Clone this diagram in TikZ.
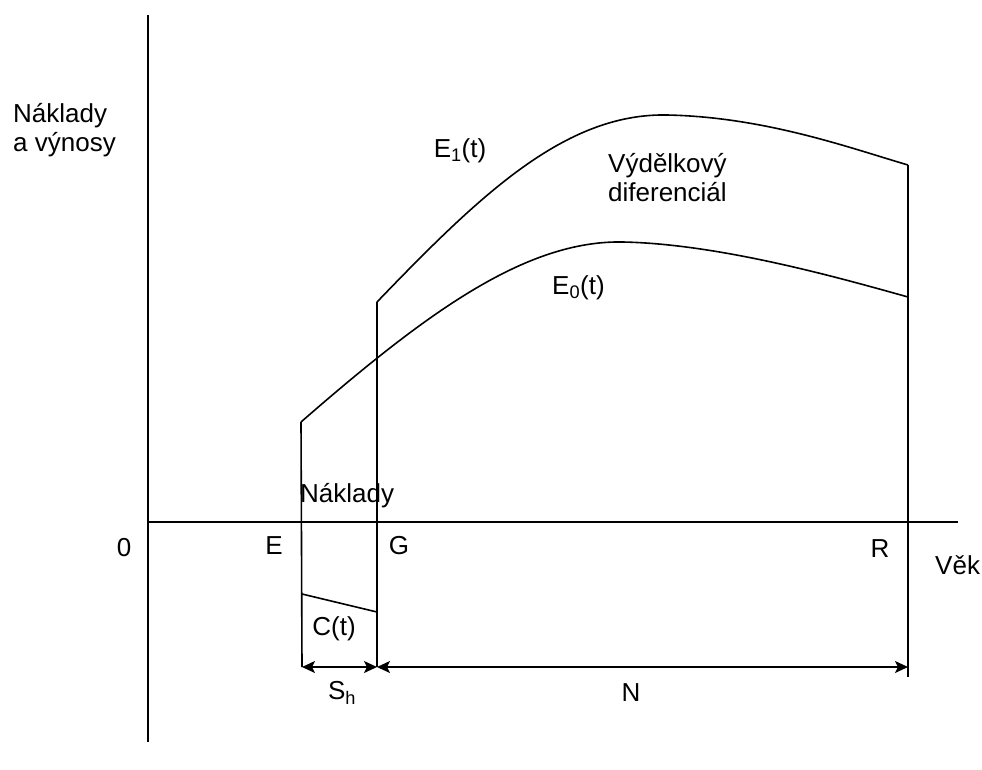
\documentclass[tikz,border=0pt]{standalone}
\usepackage{fontspec}
\setmainfont{Liberation Sans}
\usetikzlibrary{arrows.meta}
\begin{document}
\begin{tikzpicture}[x=1pt,y=-1pt,
  ln/.style={line width=1.6pt},
  dim/.style={line width=1.6pt,{Stealth[length=13pt,width=12pt,inset=3pt]}-{Stealth[length=13pt,width=12pt,inset=3pt]}},
  lbl/.style={font=\fontsize{26}{29}\selectfont,inner sep=0pt}]
\useasboundingbox (0,0) rectangle (982,769);
% coordinates
\coordinate (ytop) at (148,15);
\coordinate (ybot) at (148,742);
\coordinate (xl) at (148,522);
\coordinate (xr) at (958,522);
\coordinate (Etop) at (301,422);
\coordinate (Ebot) at (302,667);
\coordinate (Gtop) at (377,302);
\coordinate (Gbot) at (377,667);
\coordinate (Rtop) at (908,165);
\coordinate (Rbot) at (908,677);
\coordinate (Rdim) at (908,667);
\coordinate (C0) at (302,594);
\coordinate (C1) at (377,612);
\coordinate (E0end) at (908,297);
% axes
\draw[ln] (ytop) -- (ybot);
\draw[ln] (xl) -- (xr);
% verticals
\draw[ln] (Etop) -- (Ebot);
\draw[ln] (Gtop) -- (Gbot);
\draw[ln] (Rtop) -- (Rbot);
% cost line
\draw[ln] (C0) -- (C1);
% curves
\draw[ln] (Etop) .. controls (425,314) and (525,240) .. (623,242)
                 .. controls (720,244) and (840,278) .. (E0end);
\draw[ln] (Gtop) .. controls (480,195) and (565,113) .. (667,115)
                 .. controls (765,117) and (850,148) .. (Rtop);
% dimension arrows
\draw[dim] (Ebot) -- (Gbot);
\draw[dim] (Gbot) -- (Rdim);
% labels (two-line nodes: base = baseline of last line)
\node[lbl,anchor=base west,align=left] (ylab) at (13,151) {Náklady\\a výnosy};
\node[lbl] (zero) at (124,548) {0};
\node[lbl] (lE) at (274,546) {E};
\node[lbl] (lG) at (399,546) {G};
\node[lbl] (lR) at (880,549) {R};
\node[lbl,anchor=west] (vek) at (935,565) {Věk};
\node[lbl,anchor=base west] (nakl) at (300,502) {Náklady};
\node[lbl] (ct) at (334,629) {C(t)};
\node[lbl] (sh) at (342,693) {S\textsubscript{h}};
\node[lbl] (nn) at (631,693) {N};
\node[lbl] (e1) at (460,151) {E\textsubscript{1}(t)};
\node[lbl,align=left,anchor=base west] (vd) at (608,201) {Výdělkový\\diferenciál};
\node[lbl,anchor=west] (e0) at (552,288) {E\textsubscript{0}(t)};
\end{tikzpicture}
\end{document}
